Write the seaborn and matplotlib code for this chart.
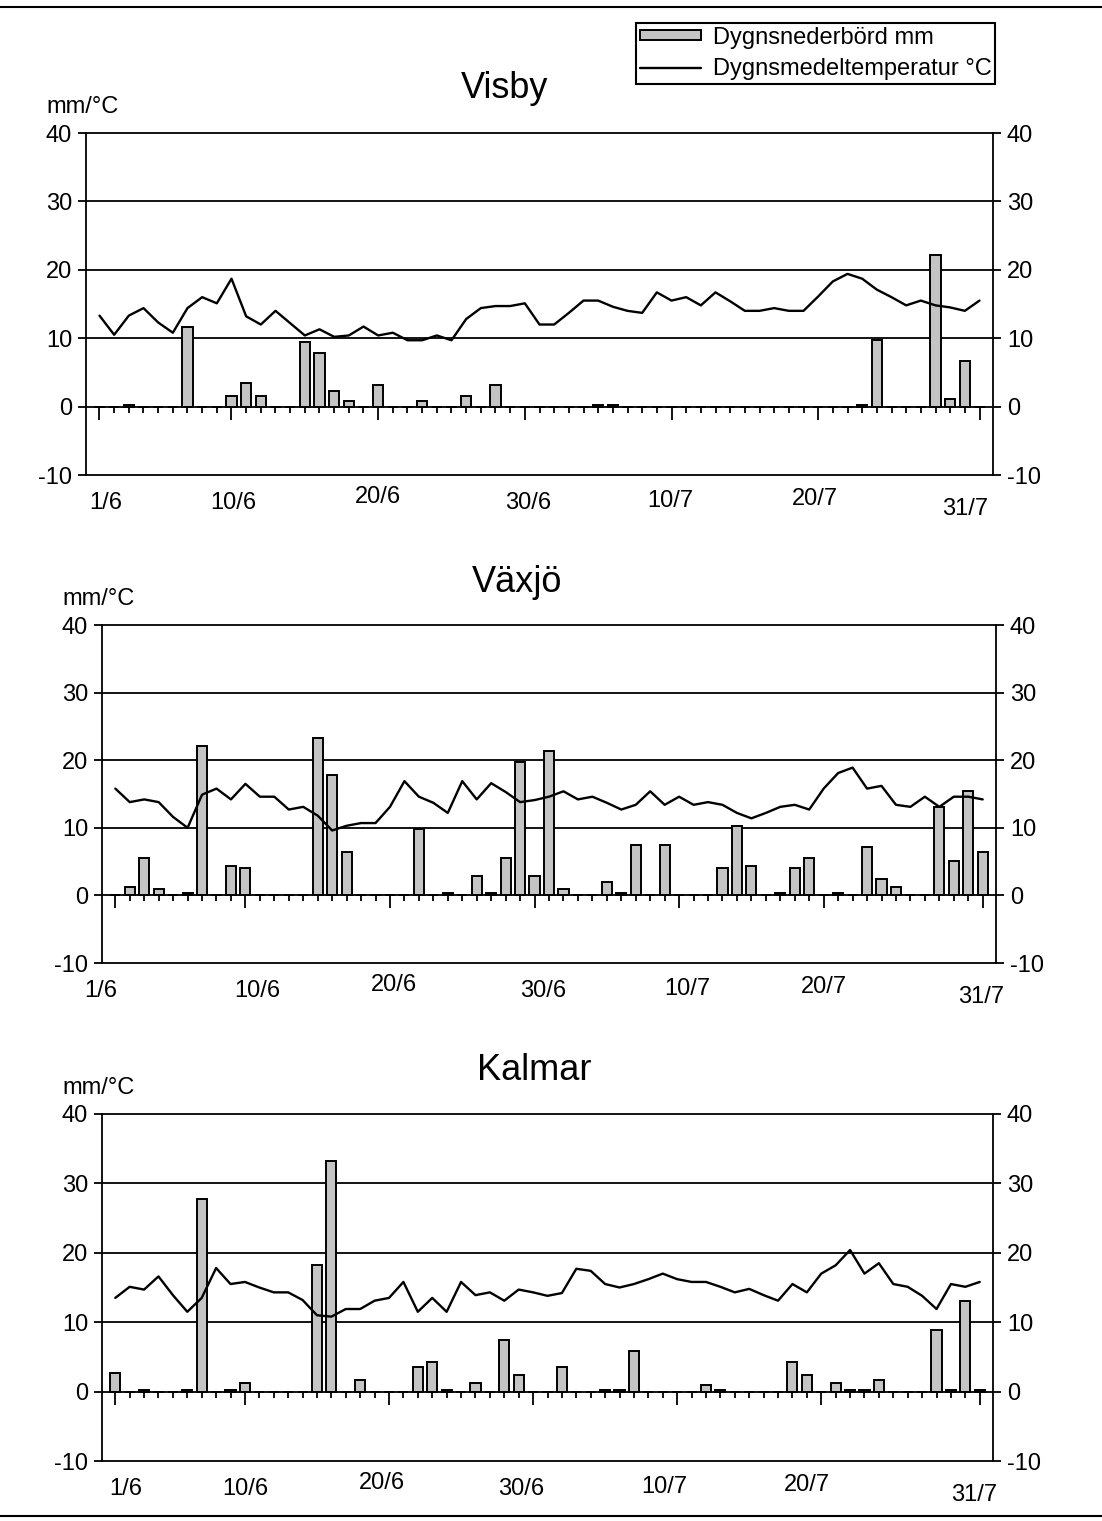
import pandas as pd
import matplotlib.pyplot as plt
from matplotlib.lines import Line2D
import seaborn as sns

# dag 1 = 1 juni, dag 61 = 31 juli
dagar = list(range(1, 62))
datum_dagar = [1, 10, 20, 30, 40, 50, 61]
datum_etiketter = ['1/6', '10/6', '20/6', '30/6', '10/7', '20/7', '31/7']
stationer = ['Visby', 'Växjö', 'Kalmar']

visby_nederbord = [0, 0, 0.3, 0, 0, 0, 11.7, 0, 0, 1.5,
                   3.5, 1.5, 0, 0, 9.4, 7.8, 2.3, 0.8, 0, 3.1,
                   0, 0, 0.8, 0, 0, 1.5, 0, 3.1, 0, 0,
                   0, 0, 0, 0, 0.3, 0.3, 0, 0, 0, 0,
                   0, 0, 0, 0, 0, 0, 0, 0, 0, 0,
                   0, 0, 0.3, 9.7, 0, 0, 0, 22.2, 1.1, 6.7, 0]
visby_temp = [13.3, 10.5, 13.3, 14.4, 12.3, 10.8, 14.4, 16.0, 15.1, 18.7,
              13.2, 12.0, 14.0, 12.2, 10.4, 11.3, 10.2, 10.4, 11.7, 10.4,
              10.8, 9.7, 9.7, 10.4, 9.7, 12.8, 14.4, 14.7, 14.7, 15.1,
              12.0, 12.0, 13.7, 15.5, 15.5, 14.6, 14.0, 13.7, 16.7, 15.5,
              16.0, 14.8, 16.7, 15.4, 14.0, 14.0, 14.4, 14.0, 14.0, 16.1,
              18.3, 19.4, 18.7, 17.1, 16.0, 14.8, 15.5, 14.8, 14.5, 14.0, 15.5]

vaxjo_nederbord = [0, 1.3, 5.6, 0.9, 0, 0.3, 22.1, 0, 4.4, 4.0,
                   0, 0, 0, 0, 23.3, 17.8, 6.4, 0, 0, 0,
                   0, 9.8, 0, 0.3, 0, 2.8, 0.4, 5.6, 19.8, 2.8,
                   21.3, 0.9, 0, 0, 2.0, 0.4, 7.5, 0, 7.5, 0,
                   0, 0, 4.0, 10.3, 4.4, 0, 0.4, 4.0, 5.6, 0,
                   0.4, 0, 7.1, 2.4, 1.3, 0, 0, 13.1, 5.1, 15.5, 6.4]
vaxjo_temp = [15.8, 13.8, 14.2, 13.8, 11.6, 10.0, 14.9, 15.8, 14.2, 16.5,
              14.6, 14.6, 12.7, 13.1, 11.8, 9.6, 10.3, 10.7, 10.7, 13.1,
              16.9, 14.6, 13.7, 12.2, 16.9, 14.2, 16.6, 15.3, 13.8, 14.1,
              14.6, 15.4, 14.2, 14.6, 13.7, 12.7, 13.4, 15.4, 13.4, 14.6,
              13.4, 13.8, 13.4, 12.2, 11.4, 12.2, 13.1, 13.4, 12.7, 15.8,
              18.1, 18.9, 15.8, 16.2, 13.4, 13.1, 14.6, 13.1, 14.6, 14.6, 14.2]

kalmar_nederbord = [2.7, 0, 0.3, 0, 0, 0.3, 27.7, 0, 0.3, 1.2,
                    0, 0, 0, 0, 18.2, 33.2, 0, 1.6, 0, 0,
                    0, 3.6, 4.3, 0.3, 0, 1.2, 0, 7.4, 2.4, 0,
                    0, 3.6, 0, 0, 0.3, 0.3, 5.9, 0, 0, 0,
                    0, 0.9, 0.3, 0, 0, 0, 0, 4.3, 2.4, 0,
                    1.2, 0.3, 0.3, 1.6, 0, 0, 0, 8.9, 0.3, 13.1, 0.3]
kalmar_temp = [13.5, 15.1, 14.7, 16.6, 13.9, 11.5, 13.5, 17.8, 15.5, 15.8,
               15.0, 14.3, 14.3, 13.2, 11.0, 10.8, 11.9, 11.9, 13.1, 13.5,
               15.8, 11.5, 13.5, 11.5, 15.8, 13.9, 14.3, 13.1, 14.7, 14.3,
               13.8, 14.2, 17.7, 17.4, 15.5, 15.0, 15.5, 16.2, 17.0, 16.2,
               15.8, 15.8, 15.1, 14.3, 14.8, 13.9, 13.1, 15.5, 14.3, 17.0,
               18.2, 20.4, 17.0, 18.5, 15.5, 15.1, 13.8, 11.9, 15.5, 15.1, 15.8]

nederbord = [visby_nederbord, vaxjo_nederbord, kalmar_nederbord]
temperatur = [visby_temp, vaxjo_temp, kalmar_temp]

sns.set_style('white')
plt.rcParams['font.family'] = ['Liberation Sans', 'DejaVu Sans']
plt.rcParams['axes.unicode_minus'] = False
plt.rcParams['text.color'] = 'black'
plt.rcParams['xtick.color'] = 'black'
plt.rcParams['ytick.color'] = 'black'

W, H = 1102, 1521
fig = plt.figure(figsize=(W / 100, H / 100), dpi=100)

# plot-ytor i pixlar: vänster, höger, topp (40), botten (-10)
ytor = [(86, 993, 133, 475), (102, 996, 625, 963), (102, 993, 1114, 1461)]
titel_pos = [(505, 98), (517, 592), (534, 1080)]
# förskjutning av datumtexterna (dagar, pixlar nedåt)
etikett_dx = [[0.4, 0.1, 0, 0.2, -0.1, -0.2, -1.0],
              [-1.0, 0.8, 0.3, 0.6, 0.6, 0, -0.1],
              [0.7, 0, -0.5, -0.8, -0.9, -1.0, -0.4]]
etikett_dy = [28, 28, 22, 28, 26, 24, 34]

fs = 17
axes = []
for i, namn in enumerate(stationer):
    l, r, t, b = ytor[i]
    ax = fig.add_axes([l / W, 1 - b / H, (r - l) / W, (b - t) / H])
    axes.append(ax)
    df = pd.DataFrame({'dag': dagar, 'nederbord': nederbord[i], 'temperatur': temperatur[i]})

    for y in (10, 20, 30):
        ax.axhline(y, color='black', lw=1.3, zorder=0.5)
    ax.axhline(-10, color='black', lw=1.3, clip_on=False)

    sns.barplot(data=df, x='dag', y='nederbord', native_scale=True, width=0.7,
                color='#c4c4c4', saturation=1, edgecolor='black', linewidth=1.4,
                errorbar=None, label='Dygnsnederbörd mm', ax=ax, zorder=2)
    sns.lineplot(data=df, x='dag', y='temperatur', color='black', lw=1.7,
                 label='Dygnsmedeltemperatur °C', ax=ax, zorder=3)
    if ax.get_legend() is not None:
        ax.get_legend().remove()

    ax.set_xlim(0.08, 61.92)
    ax.set_ylim(-10, 40)
    ax.set_yticks(range(-10, 41, 10))
    ax.set_xticks(datum_dagar)
    ax.set_xticks(dagar, minor=True)
    ax.set_xlabel('')
    ax.set_ylabel('')
    ax.spines['bottom'].set_position(('data', 0))
    for s in ax.spines.values():
        s.set_color('black')
        s.set_linewidth(1.3)
    ax.tick_params(axis='x', which='major', direction='out', length=9, width=1.3,
                   bottom=True, labelbottom=False, color='black')
    ax.tick_params(axis='x', which='minor', direction='out', length=4, width=1.3,
                   bottom=True, color='black')
    ax.tick_params(axis='y', which='major', direction='out', length=6, width=1.3,
                   left=True, right=True, labelleft=True, labelright=True,
                   pad=4, labelsize=fs, color='black', labelcolor='black')

    for d, txt, dx, dy in zip(datum_dagar, datum_etiketter, etikett_dx[i], etikett_dy):
        ax.annotate(txt, xy=(d + dx, -10), xycoords='data', xytext=(0, -dy),
                    textcoords='offset pixels', ha='center', va='center',
                    fontsize=fs, color='black', annotation_clip=False)
    ax.annotate('mm/°C', xy=(0, 1), xycoords='axes fraction', xytext=(-40, 20),
                textcoords='offset pixels', ha='left', va='baseline', fontsize=fs,
                color='black')

    tx, ty = titel_pos[i]
    fig.text(tx / W, 1 - ty / H, namn, ha='center', va='baseline', fontsize=26,
             color='black')

handles, labels = axes[0].get_legend_handles_labels()
ordning = [labels.index('Dygnsnederbörd mm'), labels.index('Dygnsmedeltemperatur °C')]
leg = fig.legend([handles[k] for k in ordning], [labels[k] for k in ordning],
                 loc='upper left', bbox_to_anchor=(636 / W, 1 - 23 / H),
                 frameon=True, fancybox=False, edgecolor='black', framealpha=1,
                 fontsize=fs, borderpad=0.15, handlelength=2.6, handleheight=0.3,
                 handletextpad=0.5, labelspacing=0.4, borderaxespad=0)
leg.get_frame().set_linewidth(1.5)
for txt in leg.get_texts():
    txt.set_color('black')

for yy in (7, 1516):
    fig.add_artist(Line2D([0, 1], [1 - yy / H] * 2, color='black', lw=1.5))

fig.savefig('out.png', dpi=100)
